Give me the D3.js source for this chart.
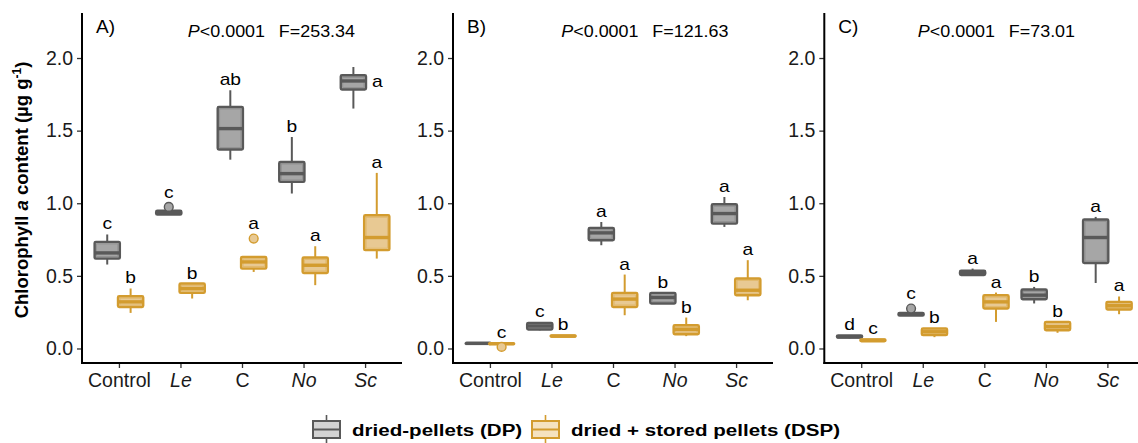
<!DOCTYPE html>
<html>
<head>
<meta charset="utf-8">
<script src="https://cdn.jsdelivr.net/npm/d3@7"></script>
<style>
  html, body { margin: 0; padding: 0; background: #ffffff; }
  svg { display: block; font-family: "Liberation Sans", Arial, Helvetica, sans-serif; }
</style>
</head>
<body>
<svg id="chart" width="1138" height="443"></svg>
<script>
// ---------------- DATA ----------------
const categories = ["Control", "Le", "C", "No", "Sc"];
const italicCats = ["Le", "No", "Sc"];
const panelLabels = ["A)", "B)", "C)"];
const pText = "<0.0001";
const fValues = ["253.34", "121.63", "73.01"];
const yTicks = [0.0, 0.5, 1.0, 1.5, 2.0];
const seriesNames = ["dried-pellets (DP)", "dried + stored pellets (DSP)"];

// box stats per category: [lower whisker, Q1, median, Q3, upper whisker]
const dpA  = [[0.578,0.619,0.658,0.734,0.785],[0.921,0.922,0.936,0.948,0.950],[1.300,1.370,1.514,1.663,1.778],[1.067,1.147,1.204,1.284,1.456],[1.652,1.783,1.842,1.881,1.938]];
const dspA = [[0.245,0.286,0.321,0.360,0.413],[0.344,0.383,0.413,0.447,0.447],[0.527,0.550,0.596,0.630,0.630],[0.436,0.520,0.573,0.626,0.704],[0.619,0.677,0.764,0.917,1.209]];
const dpB  = [[0.030,0.032,0.035,0.038,0.040],[0.125,0.131,0.155,0.176,0.180],[0.711,0.745,0.796,0.830,0.871],[0.310,0.310,0.351,0.383,0.383],[0.837,0.860,0.929,0.993,1.043]];
const dspB = [[0.028,0.030,0.033,0.036,0.037],[0.080,0.082,0.085,0.090,0.090],[0.229,0.286,0.340,0.383,0.509],[0.085,0.098,0.131,0.160,0.213],[0.332,0.367,0.401,0.482,0.608]];
const dpC  = [[0.070,0.075,0.080,0.090,0.090],[0.225,0.226,0.236,0.245,0.245],[0.504,0.506,0.520,0.535,0.550],[0.310,0.339,0.367,0.406,0.424],[0.451,0.589,0.764,0.888,0.906]];
const dspC = [[0.045,0.050,0.057,0.063,0.065],[0.078,0.092,0.115,0.138,0.138],[0.183,0.275,0.321,0.367,0.385],[0.108,0.126,0.150,0.183,0.183],[0.236,0.268,0.295,0.321,0.358]];

// outliers per category (values)
const dpAOut  = [[],[0.975],[],[],[]];
const dspAOut = [[],[],[0.757],[],[]];
const dpBOut  = [[],[],[],[],[]];
const dspBOut = [[0.011],[],[],[],[]];
const dpCOut  = [[],[0.275],[],[],[]];
const dspCOut = [[],[],[],[],[]];

// significance letters
const dpALetters  = ["c","c","ab","b","a"];
const dspALetters = ["b","b","a","a","a"];
const dpBLetters  = ["","c","a","b","a"];
const dspBLetters = ["c","b","a","b","a"];
const dpCLetters  = ["d","c","a","b","a"];
const dspCLetters = ["c","b","a","b","a"];

// ---------------- LAYOUT / STYLE ----------------
const panelX0 = [82, 453, 824.3];
const plotW = 320;
const yTop = 13, yBottom = 363;
const statX = [2.12, 2.16, 1.92];     // start of P/F annotation, in x-axis units
const dodge = 0.19, boxW = 0.41;      // in category units
const styles = [
  { stroke: "#595959", fill: "#a6a6a6", inner: "#8e8e8e", key: "#d3d3d3" },
  { stroke: "#d39c2f", fill: "#e8c993", inner: "#e0b768", key: "#f5e2bf" }
];
const textK = 1.2;  // horizontal stretch of letter annotations
const statK = 1.12; // horizontal stretch of P/F annotation

const panels = [
  { dp: dpA, dsp: dspA, dpOut: dpAOut, dspOut: dspAOut, dpL: dpALetters, dspL: dspALetters },
  { dp: dpB, dsp: dspB, dpOut: dpBOut, dspOut: dspBOut, dpL: dpBLetters, dspL: dspBLetters },
  { dp: dpC, dsp: dspC, dpOut: dpCOut, dspOut: dspCOut, dpL: dpCLetters, dspL: dspCLetters }
];

const svg = d3.select("#chart");

function stretchText(g, x, y, size, k, anchor, weight) {
  return g.append("text")
    .attr("transform", `translate(${x},${y}) scale(${k},1)`)
    .attr("font-size", size)
    .attr("text-anchor", anchor || "start")
    .attr("font-weight", weight || "normal")
    .attr("fill", "#000");
}

const y = d3.scaleLinear().domain([-0.1, 2.31]).range([yBottom, yTop]);

panels.forEach((p, pi) => {
  const x0 = panelX0[pi];
  const x = d3.scaleLinear().domain([0.4, 5.6]).range([x0, x0 + plotW]);
  const step = x(2) - x(1);
  const g = svg.append("g");

  // axes
  const yAxis = d3.axisLeft(y).tickValues(yTicks).tickFormat(d3.format(".1f")).tickSize(5).tickPadding(4);
  const ya = g.append("g").attr("transform", `translate(${x0},0)`).call(yAxis);
  ya.select(".domain").remove();
  ya.selectAll(".tick line").attr("stroke", "#333").attr("stroke-width", 1.3);
  ya.selectAll(".tick text").attr("font-size", 19.5).attr("fill", "#1a1a1a")
    .attr("font-family", "Liberation Sans, Arial, sans-serif");

  const xAxis = d3.axisBottom(x).tickValues([1,2,3,4,5]).tickFormat(i => categories[i-1]).tickSize(5).tickPadding(5);
  const xa = g.append("g").attr("transform", `translate(0,${yBottom})`).call(xAxis);
  xa.select(".domain").remove();
  xa.selectAll(".tick line").attr("stroke", "#333").attr("stroke-width", 1.3);
  xa.selectAll(".tick text").attr("font-size", 19.5).attr("fill", "#1a1a1a")
    .attr("font-family", "Liberation Sans, Arial, sans-serif")
    .attr("font-style", i => italicCats.includes(categories[i-1]) ? "italic" : "normal");

  g.append("line").attr("x1", x0).attr("x2", x0).attr("y1", yTop).attr("y2", yBottom + 0.9)
    .attr("stroke", "#000").attr("stroke-width", 2);
  g.append("line").attr("x1", x0 - 0.9).attr("x2", x0 + plotW).attr("y1", yBottom).attr("y2", yBottom)
    .attr("stroke", "#000").attr("stroke-width", 2);

  // panel label
  g.append("text").attr("x", x0 + 14).attr("y", 33).attr("font-size", 19).attr("fill", "#000").text(panelLabels[pi]);

  // P / F annotation
  const sx = x(statX[pi]);
  const t1 = stretchText(g, sx, 37, 16, statK);
  t1.append("tspan").attr("font-style", "italic").text("P");
  t1.append("tspan").text(pText);
  stretchText(g, sx + 91, 37, 16, statK).text("F=" + fValues[pi]);

  // boxes
  const series = [
    { stats: p.dp, outs: p.dpOut, letters: p.dpL, off: -dodge, st: styles[0], s: 0 },
    { stats: p.dsp, outs: p.dspOut, letters: p.dspL, off: dodge, st: styles[1], s: 1 }
  ];
  series.forEach(se => {
    se.stats.forEach((b, ci) => {
      const cx = x(ci + 1 + se.off);
      const hw = boxW * step / 2;
      const [lo, q1, med, q3, hi] = b;
      const bg = g.append("g");
      bg.append("line").attr("x1", cx).attr("x2", cx).attr("y1", y(hi)).attr("y2", y(q3))
        .attr("stroke", se.st.stroke).attr("stroke-width", 2);
      bg.append("line").attr("x1", cx).attr("x2", cx).attr("y1", y(q1)).attr("y2", y(lo))
        .attr("stroke", se.st.stroke).attr("stroke-width", 2);
      const top = y(q3), bot = y(q1);
      const h = Math.max(bot - top, 0);
      bg.append("rect").attr("x", cx - hw).attr("y", top).attr("width", 2 * hw).attr("height", h)
        .attr("fill", se.st.fill).attr("stroke", se.st.stroke).attr("stroke-width", 2.4).attr("rx", 1.2);
      if (h > 6) {
        bg.append("rect").attr("x", cx - hw + 2).attr("y", top + 2).attr("width", 2 * hw - 4).attr("height", h - 4)
          .attr("fill", "none").attr("stroke", se.st.inner).attr("stroke-width", 0.8);
      }
      bg.append("line").attr("x1", cx - hw).attr("x2", cx + hw).attr("y1", y(med)).attr("y2", y(med))
        .attr("stroke", se.st.stroke).attr("stroke-width", 3.4);
      // outliers
      se.outs[ci].forEach(o => {
        bg.append("circle").attr("cx", cx).attr("cy", y(o)).attr("r", 4.4)
          .attr("fill", se.st.fill).attr("stroke", se.st.stroke).attr("stroke-width", 1.4);
      });
      // letters
      const L = se.letters[ci];
      if (L) {
        const topVal = Math.max(hi, ...se.outs[ci].map(o => o + 0.03), q3);
        if (pi === 0 && se.s === 0 && ci === 4) {
          stretchText(g, cx + hw + 6, y(med) + 6, 16, textK, "start").text(L);
        } else {
          stretchText(g, cx, y(topVal) - 5, 16, textK, "middle").text(L);
        }
      }
    });
  });
});

// y-axis title
const yt = svg.append("text")
  .attr("transform", "translate(28,190) rotate(-90)")
  .attr("text-anchor", "middle").attr("font-size", 18.5).attr("font-weight", "bold").attr("fill", "#000");
yt.append("tspan").text("Chlorophyll ");
yt.append("tspan").attr("font-style", "italic").text("a");
yt.append("tspan").text(" content (µg g");
yt.append("tspan").attr("font-size", 12).attr("dy", -7).text("-1");
yt.append("tspan").attr("dy", 7).text(")");

// legend
const legendX = [313, 532];
seriesNames.forEach((name, i) => {
  const lg = svg.append("g");
  const st = styles[i];
  const kx = legendX[i], kw = 27, cyL = 429.5;
  lg.append("line").attr("x1", kx + kw/2).attr("x2", kx + kw/2).attr("y1", 415).attr("y2", 443)
    .attr("stroke", st.stroke).attr("stroke-width", 1.6);
  lg.append("rect").attr("x", kx).attr("y", 421).attr("width", kw).attr("height", 17)
    .attr("fill", st.key).attr("stroke", st.stroke).attr("stroke-width", 2);
  lg.append("line").attr("x1", kx).attr("x2", kx + kw).attr("y1", cyL).attr("y2", cyL)
    .attr("stroke", st.stroke).attr("stroke-width", 2);
  stretchText(lg, kx + kw + 12, 436, 17, 1.21, "start", "bold").text(name);
});
</script>
</body>
</html>
